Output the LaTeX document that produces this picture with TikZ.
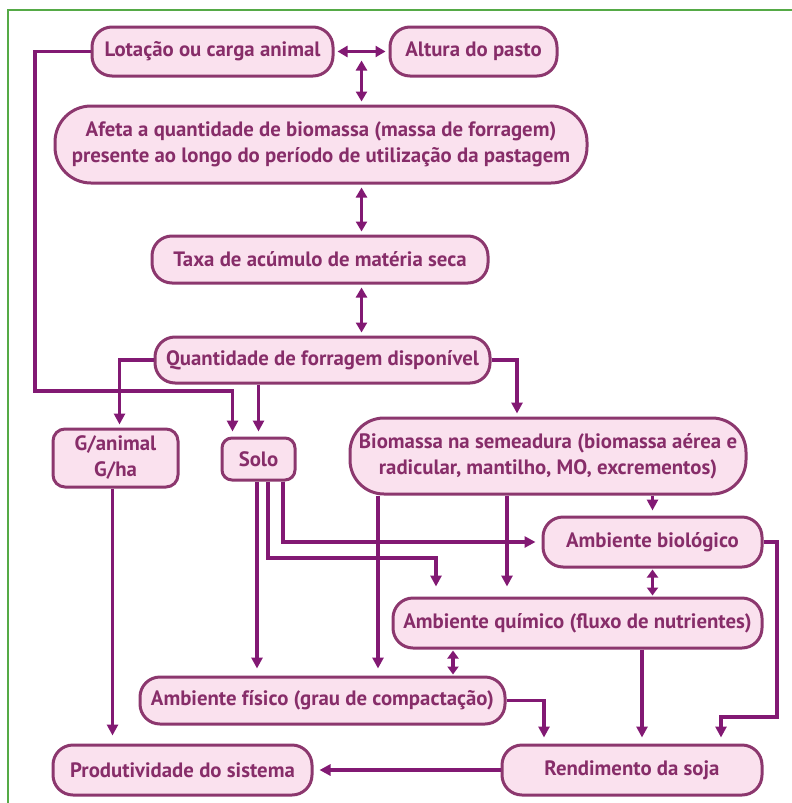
\documentclass[tikz,border=0pt]{standalone}
\usepackage{fontspec}
\setmainfont{PT Sans}
\usetikzlibrary{arrows.meta,calc}

\definecolor{boxfill}{RGB}{250,225,238}
\definecolor{boxline}{RGB}{140,55,110}
\definecolor{boxtext}{RGB}{135,45,105}
\definecolor{arrcol}{RGB}{130,25,115}
\definecolor{framegreen}{RGB}{85,170,70}

\tikzset{
    caixa/.style={draw=boxline, fill=boxfill, line width=3pt, rounded corners=20pt,
        inner sep=0pt, align=center, text=boxtext,
        font=\fontsize{20.8}{26}\selectfont\bfseries},
    liga/.style={draw=arrcol, line width=3.2pt, -{Triangle[length=11pt,width=11pt]}, shorten >=5pt},
    duplo/.style={draw=arrcol, line width=3.2pt,
        {Triangle[length=10pt,width=11pt]}-{Triangle[length=10pt,width=11pt]}, shorten >=3pt, shorten <=3pt},
    duplocurto/.style={duplo, {Triangle[length=8pt,width=11pt]}-{Triangle[length=8pt,width=11pt]},
        shorten >=1pt, shorten <=1pt}
}

\begin{document}
\begin{tikzpicture}[x=1pt,y=-1pt]
    \useasboundingbox (0,0) rectangle (792,803);
    \draw[framegreen, line width=1.4pt] (8,803) -- (8,10) -- (792,10);

    % caixas
    \node[caixa, minimum width=241pt, minimum height=49pt] (lot) at (212.5,51.5) {Lotação ou carga animal};
    \node[caixa, minimum width=167pt, minimum height=49pt] (alt) at (473.5,51.5) {Altura do pasto};
    \node[caixa, minimum width=532pt, minimum height=77pt, rounded corners=36pt] (afeta) at (321,144.5)
        {Afeta a quantidade de biomassa (massa de forragem)\\presente ao longo do período de utilização da pastagem};
    \node[caixa, minimum width=336pt, minimum height=47pt] (taxa) at (320,259.5) {Taxa de acúmulo de matéria seca};
    \node[caixa, minimum width=335pt, minimum height=46pt] (quant) at (322.5,360) {Quantidade de forragem disponível};
    \node[caixa, minimum width=125pt, minimum height=58pt, rounded corners=12pt] (gan) at (115.5,458) {G/animal\\G/ha};
    \node[caixa, minimum width=73pt, minimum height=42pt, rounded corners=10pt] (solo) at (258.5,459) {Solo};
    \node[caixa, minimum width=396pt, minimum height=76pt, rounded corners=34pt] (bio) at (548,456)
        {Biomassa na semeadura (biomassa aérea e\\radicular, mantilho, MO, excrementos)};
    \node[caixa, minimum width=219pt, minimum height=50pt] (biol) at (652.5,542) {Ambiente biológico};
    \node[caixa, minimum width=369pt, minimum height=50pt] (quim) at (577.5,623) {Ambiente químico (fluxo de nutrientes)};
    \node[caixa, minimum width=365pt, minimum height=47pt] (fis) at (322.5,700.5) {Ambiente físico (grau de compactação)};
    \node[caixa, minimum width=259pt, minimum height=50pt] (prod) at (182.5,770) {Produtividade do sistema};
    \node[caixa, minimum width=260pt, minimum height=50pt] (rend) at (632,770) {Rendimento da soja};

    % ligacoes do topo
    \coordinate (meio) at ($(lot.east)!0.5!(alt.west)$);
    \draw[duplo] (lot.east) -- (alt.west);
    \draw[duplo] ([yshift=-6pt]meio) -- (meio |- afeta.north);
    \draw[duplo] (meio |- afeta.south) -- (meio |- taxa.north);
    \draw[duplo] (meio |- taxa.south) -- (meio |- quant.north);

    % lotacao -> solo
    \draw[liga] (lot.west) -| (35,391) -| ([xshift=-26pt]solo.north);

    % quantidade de forragem
    \draw[liga, shorten >=3pt] (quant.west) -| ([xshift=4pt]gan.north);
    \draw[liga] (quant.south -| solo.north) -- (solo.north);
    \draw[liga, shorten >=3pt] (quant.east) -| ([xshift=-31pt]bio.north);
    \draw[liga, shorten >=8pt] ([xshift=-3pt]gan.south) -- ([xshift=-3pt]gan.south |- prod.north);

    % solo
    \draw[liga, shorten >=7pt] ([xshift=-1.5pt]solo.south) -- ([xshift=-1.5pt]solo.south |- fis.north);
    \coordinate (kq) at (436,558);
    \draw[liga, shorten >=10pt] ([xshift=9.5pt]solo.south) |- (kq) -- (kq |- quim.north);
    \draw[liga, shorten >=6pt] ([xshift=24.5pt]solo.south) |- (biol.west);

    % biomassa
    \draw[liga, shorten >=7pt] ([xshift=-170pt]bio.south) -- ([xshift=-170pt]bio.south |- fis.north);
    \draw[liga, shorten >=10pt] ([xshift=-41pt]bio.south) -- ([xshift=-41pt]bio.south |- quim.north);
    \draw[liga] (bio.south -| biol.north) -- (biol.north);

    % ambientes
    \draw[duplocurto] (biol.south) -- (biol.south |- quim.north);
    \draw[duplocurto] ([xshift=-124.5pt]quim.south) -- ([xshift=-124.5pt]quim.south |- fis.north);
    \draw[liga, shorten >=6pt] (fis.east) -| ([xshift=-88pt]rend.north);
    \draw[liga, shorten >=6pt] ([xshift=64.5pt]quim.south) -- ([xshift=64.5pt]quim.south |- rend.north);
    \draw[liga, shorten >=6pt] (biol.east) -| (777,717) -| ([xshift=89pt]rend.north);
    \draw[liga, shorten >=6pt] (rend.west) -- (prod.east);
\end{tikzpicture}
\end{document}
